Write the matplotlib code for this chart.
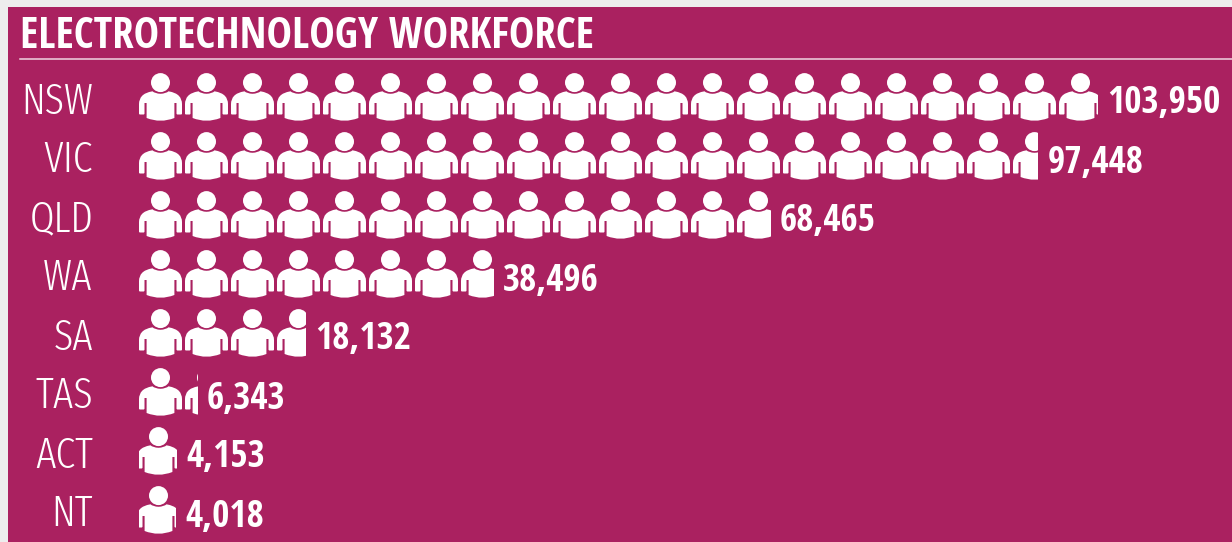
import math
import matplotlib
matplotlib.use("Agg")
import matplotlib.pyplot as plt
from matplotlib.path import Path
from matplotlib.patches import PathPatch, Rectangle
from matplotlib.transforms import Affine2D

title = "ELECTROTECHNOLOGY WORKFORCE"
states = ["NSW", "VIC", "QLD", "WA", "SA", "TAS", "ACT", "NT"]
workers = [103950, 97448, 68465, 38496, 18132, 6343, 4153, 4018]
per_icon = 5000

W, H = 1232, 542
BG = "#AA2160"
PAGE = "#EDEDED"
PX_PER_ICON = 46.15
PITCH = 46.0
ROW = 59.0
X0, Y0 = 139.0, 97.0
BOLD = ["Open Sans Condensed", "Roboto Condensed", "DejaVu Sans"]
LIGHT = ["Fira Sans Extra Condensed", "Roboto Condensed", "DejaVu Sans"]

fig = plt.figure(figsize=(W / 100, H / 100), dpi=100, facecolor=PAGE)
ax = fig.add_axes([0, 0, 1, 1])
ax.set_xlim((0 - X0) / PX_PER_ICON * per_icon, (W - X0) / PX_PER_ICON * per_icon)
ax.set_ylim((H - Y0) / ROW, (0 - Y0) / ROW)
ax.axis("off")

to_px = Affine2D().scale(1 / W, -1 / H).translate(0, 1) + ax.transAxes
ax.add_patch(Rectangle((8, 7), W - 8, H - 7, transform=to_px, fc=BG, ec="none", zorder=0))
ax.plot([20, W], [58.5, 58.5], transform=to_px, color="#F0D5E0", lw=1.1, zorder=1)
ax.text(20, 48, title, transform=to_px, color="white", fontsize=30.75, fontweight="bold",
        family=BOLD, ha="left", va="baseline")

M, L, C, Z = Path.MOVETO, Path.LINETO, Path.CURVE3, Path.CLOSEPOLY
head = Path.circle((21.5, 9.6), 9.5)
body = Path(
    [(21.5, 20.8), (16, 20.6), (13.5, 18.3), (6, 19.5), (3, 23), (0, 26), (0, 31),
     (0, 40.5), (0, 41.5), (1, 41.5), (4.5, 41.5), (5.5, 41.5), (5.5, 40.5), (5.5, 30),
     (7.6, 30), (7.6, 45), (21.5, 50.5), (35.4, 45), (35.4, 30), (37.5, 30),
     (37.5, 40.5), (37.5, 41.5), (38.5, 41.5), (42, 41.5), (43, 41.5), (43, 40.5),
     (43, 31), (43, 26), (40, 23), (37, 19.5), (29.5, 18.3), (27, 20.6), (21.5, 20.8),
     (21.5, 20.8)],
    [M, C, C, C, C, C, C,
     L, C, C, L, C, C, L,
     L, L, C, C, L, L,
     L, C, C, L, C, C,
     L, C, C, C, C, C, C,
     Z],
)
icon = Path.make_compound_path(head, body)
row_shift = [0, 0, 0, 0, 0, 0, -2, -2]

for r, (state, value) in enumerate(zip(states, workers)):
    n = math.ceil(value / per_icon)
    clip = Rectangle((0, r - 0.5), value, 1, transform=ax.transData, fc="none", ec="none")
    ax.add_patch(clip)
    for i in range(n):
        xpx = (i * PITCH + row_shift[r]) / PX_PER_ICON * per_icon
        tr = Affine2D().scale(per_icon / PX_PER_ICON, 1 / ROW).translate(xpx, r - 24 / ROW)
        p = PathPatch(icon, transform=tr + ax.transData, fc="white", ec="none", zorder=2)
        ax.add_patch(p)
        p.set_clip_path(clip)
    ax.text((93 - X0) / PX_PER_ICON * per_icon, r + 16.5 / ROW, state, color="white",
            fontsize=31, family=LIGHT, ha="right", va="baseline", fontweight=300)
    ax.text(value + 9 / PX_PER_ICON * per_icon, r + 16.5 / ROW, f"{value:,}", color="white",
            fontsize=26.7, fontweight="bold", family=BOLD, ha="left", va="baseline")

fig.savefig("out.png", dpi=100, facecolor=PAGE)
